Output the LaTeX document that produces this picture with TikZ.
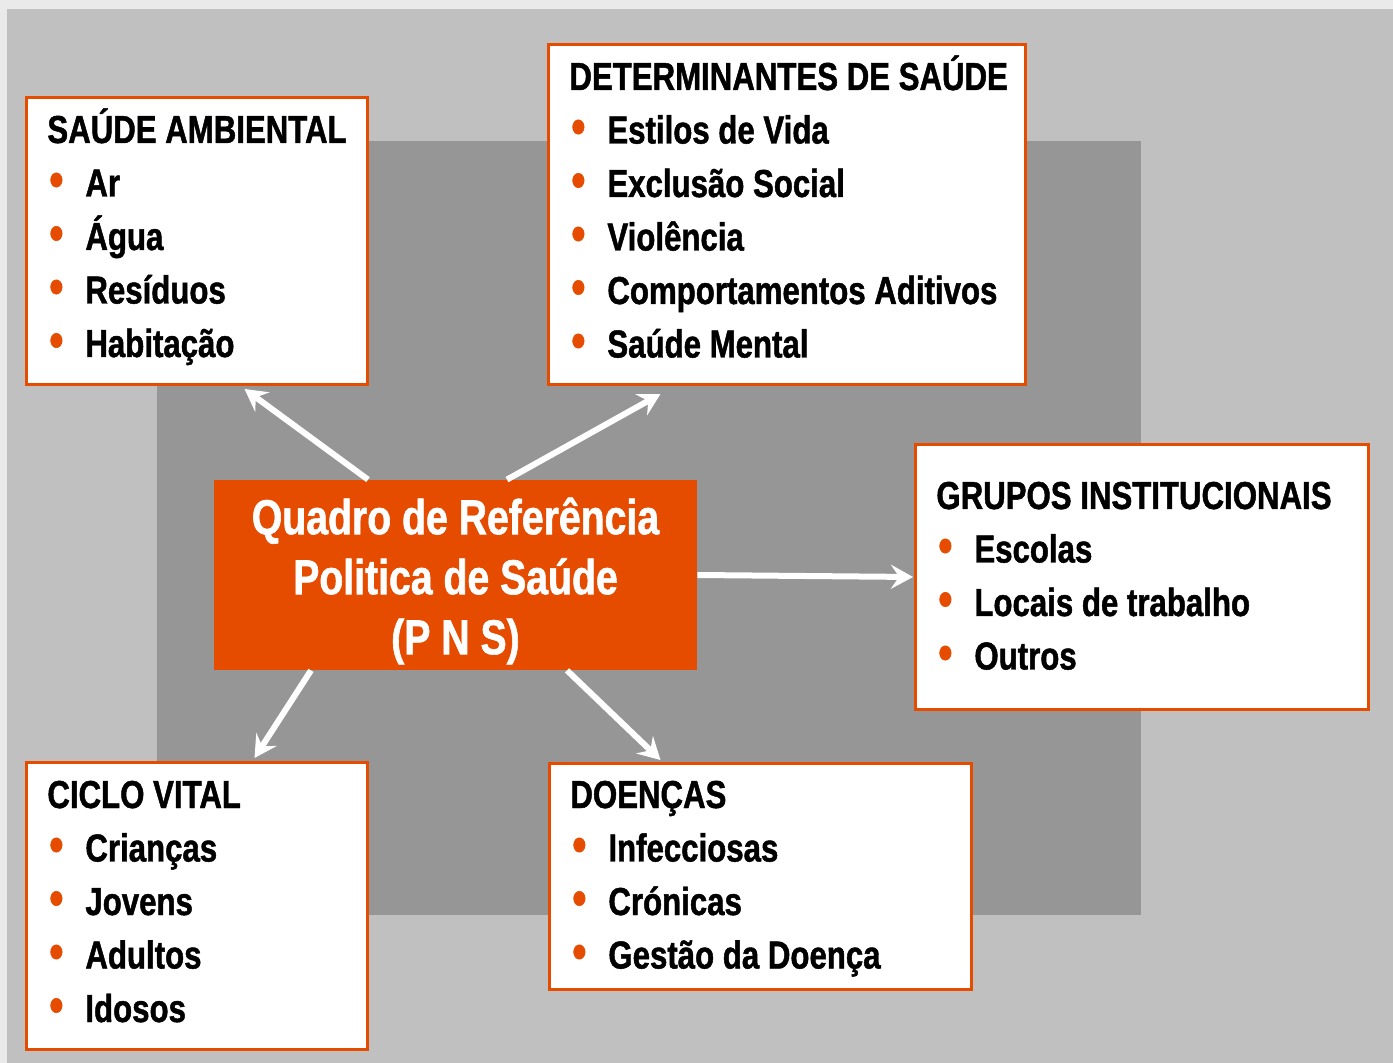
\documentclass[tikz,border=0pt]{standalone}
\usepackage{fontspec}
\setmainfont{Liberation Sans}[FakeStretch=0.8, BoldFeatures={FakeBold=1.2}]
\usepackage{xcolor}
\usepackage{tikz}
\usetikzlibrary{arrows.meta}
\definecolor{pnsorange}{HTML}{E64C00}
\definecolor{pagebg}{HTML}{EAEAEA}
\definecolor{lightbg}{HTML}{C0C0C0}
\definecolor{darkbg}{HTML}{969696}
\tikzset{
  listbox/.style={draw=pnsorange, line width=1.5pt, fill=white, inner sep=0pt, anchor=north west},
  listtext/.style={anchor=base west, inner sep=0pt, font=\fontsize{19.5}{20}\selectfont\bfseries},
  pnsarrow/.style={draw=white, line width=3pt, -{Stealth[length=11pt,width=12pt,inset=4pt]}},
}
\newcommand{\itembullet}{\makebox[19pt][l]{\hspace{1pt}\textcolor{pnsorange}{\fontsize{25}{20}\selectfont\textbullet}}}
% box with title and bulleted lines: name, corner, width, height, title baseline, title, items
\newcommand{\pnslist}[7]{%
  \node[listbox, minimum width=#3, minimum height=#4] (#1) at #2 {};
  \node[listtext] (#1-0) at ([xshift=11pt,yshift=-#5pt]#1.north west) {#6};
  \foreach \lbl [count=\k] in {#7} {
    \pgfmathsetmacro{\dy}{#5+26.75*\k}
    \node[listtext] (#1-\k) at ([xshift=11pt,yshift=-\dy pt]#1.north west) {\itembullet\lbl};
  }%
}

\begin{document}
\begin{tikzpicture}[x=0.5pt,y=-0.5pt]
  % backgrounds
  \fill[pagebg] (0,0) rectangle (1393,1063);
  \fill[lightbg] (7,9) rectangle (1393,1063);
  \fill[darkbg] (157,141) rectangle (1141,915);

  \pnslist{amb}{(25,96)}{170.5pt}{143.5pt}{23.5}{SAÚDE AMBIENTAL}{Ar,Água,Resíduos,Habitação}
  \pnslist{det}{(547,43)}{238.5pt}{170pt}{23.5}{DETERMINANTES DE SAÚDE}{Estilos de Vida,Exclusão Social,Violência,Comportamentos Aditivos,Saúde Mental}
  \pnslist{grp}{(914,443)}{226.5pt}{132.5pt}{33}{GRUPOS INSTITUCIONAIS}{Escolas,Locais de trabalho,Outros}
  \pnslist{cic}{(25,761)}{170.5pt}{143.5pt}{23.5}{CICLO VITAL}{Crianças,Jovens,Adultos,Idosos}
  \pnslist{doe}{(548,762)}{211pt}{113pt}{23}{DOENÇAS}{Infecciosas,Crónicas,Gestão da Doença}

  \node[fill=pnsorange, minimum width=241.5pt, minimum height=95pt, inner sep=0pt] (ctr) at (455.5,575) {};
  \node[text=white, align=center, inner sep=0pt, font=\fontsize{24.5}{30}\selectfont\bfseries]
    (ctr-text) at ([yshift=-3pt]ctr.center) {Quadro de Referência\\Politica de Saúde\\(P N S)};

  % arrows
  \draw[pnsarrow] ([xshift=-43.75pt]ctr.north) -- ([xshift=23.75pt,yshift=-1.5pt]amb.south);
  \draw[pnsarrow] ([xshift=25.75pt]ctr.north) -- ([xshift=-63.25pt,yshift=-4pt]det.south);
  \draw[pnsarrow] (ctr.east) -- ([xshift=-0.5pt]grp.west);
  \draw[pnsarrow] ([xshift=-72.25pt]ctr.south) -- ([xshift=28.75pt,yshift=1.5pt]cic.north);
  \draw[pnsarrow] ([xshift=55.75pt]ctr.south) -- ([xshift=-50pt,yshift=1pt]doe.north);
\end{tikzpicture}
\end{document}
